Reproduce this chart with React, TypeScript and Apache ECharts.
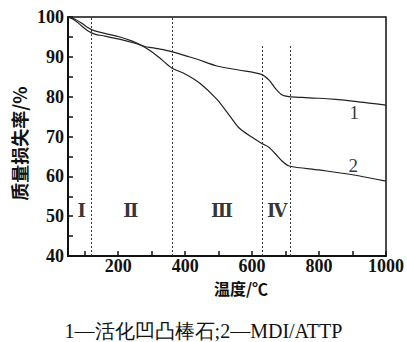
import React, { useEffect, useRef } from "react";
import * as echarts from "echarts";

const temps1 = [50, 70, 90, 110, 130, 160, 200, 250, 280, 300, 340, 360, 400, 436, 495, 560, 628, 650, 670, 690, 710, 750, 800, 850, 900, 950, 1000];
const loss1 = [100, 99.2, 97.8, 96.5, 95.7, 95.2, 94.5, 93.4, 92.6, 92.3, 91.7, 91.3, 90.3, 89.4, 87.7, 86.7, 85.6, 84.2, 82.0, 80.4, 80.0, 79.8, 79.6, 79.3, 78.9, 78.4, 77.9];
const temps2 = [50, 70, 90, 110, 130, 160, 200, 240, 275, 300, 330, 360, 400, 445, 495, 533, 563, 600, 628, 650, 670, 690, 711, 800, 900, 1000];
const loss2 = [100, 99.5, 98.5, 97.3, 96.5, 95.9, 95.1, 94.0, 92.6, 91.3, 89.3, 87.2, 85.7, 83.3, 79.3, 75.2, 72.0, 69.8, 68.3, 67.3, 65.6, 63.8, 62.6, 61.6, 60.4, 58.8];

const stageBounds = [120, 360, 630, 713];
const stageTops = [100, 100, 92.8, 92.8];
const stageNames = ["Ⅰ", "Ⅱ", "Ⅲ", "Ⅳ"];
const stageX = [91, 238, 510, 675];
const stageY = 51.3;

const curveNames = ["1", "2"];
const curveLabelX = [905, 902];
const curveLabelY = [76.0, 62.6];

const xTicks = [100, 200, 300, 400, 500, 600, 700, 800, 900, 1000];
const xLabels = [200, 400, 600, 800, 1000];

const caption = "1—活化凹凸棒石;2—MDI/ATTP";
const xName = "温度/℃";
const yName = "质量损失率/%";

const serif = "Liberation Serif";
const cjk = "Noto Sans CJK SC";

export default function App() {
  const ref = useRef<HTMLDivElement>(null);
  useEffect(() => {
    if (!ref.current) return;
    const chart = echarts.init(ref.current, null, { renderer: "svg" });
    const lineStyle = { color: "#222", width: 1.2 };
    chart.setOption({
      animation: false,
      backgroundColor: "#fff",
      color: ["#222", "#222", "#000", "#000"],
      title: {
        text: caption,
        left: "center",
        bottom: -4,
        textStyle: { fontFamily: serif, fontSize: 20, fontWeight: "normal", color: "#111" },
      },
      grid: {
        left: 68,
        right: 16,
        top: 17,
        bottom: 86,
        show: true,
        borderColor: "#111",
        borderWidth: 1.5,
      },
      xAxis: {
        type: "value",
        min: 50,
        max: 1000,
        name: xName,
        nameLocation: "middle",
        nameGap: 24,
        nameMoveOverlap: false,
        nameTextStyle: { fontFamily: cjk, fontSize: 16, lineHeight: 16, fontWeight: "bold", color: "#111", padding: [0, 0, 0, 28] },
        axisLine: { lineStyle: { color: "#111", width: 2 } },
        axisTick: { inside: true, length: 5, customValues: xTicks, lineStyle: { color: "#111", width: 1.5 } },
        axisLabel: { customValues: xLabels, formatter: (v: number) => String(v), fontFamily: serif, fontSize: 18, lineHeight: 16, fontWeight: "bold", color: "#111", margin: 2 },
        splitLine: { show: false },
      },
      yAxis: {
        type: "value",
        min: 40,
        max: 100,
        interval: 10,
        name: yName,
        nameLocation: "middle",
        nameRotate: 90,
        nameGap: 40,
        nameMoveOverlap: false,
        nameTextStyle: { fontFamily: cjk, fontSize: 18, fontWeight: "bold", color: "#111", padding: [0, 0, 0, -14] },
        axisLine: { lineStyle: { color: "#111", width: 2 } },
        axisTick: { inside: true, length: 5, lineStyle: { color: "#111", width: 1.5 } },
        minorTick: { show: true, splitNumber: 2, length: 5, lineStyle: { color: "#111", width: 1.5 } },
        axisLabel: { formatter: (v: number) => String(v), fontFamily: serif, fontSize: 18, fontWeight: "bold", color: "#111", margin: 4 },
        splitLine: { show: false },
      },
      series: [
        {
          type: "line",
          data: temps1.map((t, i) => [t, loss1[i]]),
          smooth: 0.3,
          showSymbol: false,
          lineStyle,
          markLine: {
            silent: true,
            symbol: "none",
            label: { show: false },
            lineStyle: { color: "#333", width: 1, type: [2, 2] },
            data: stageBounds.map((b, i) => [{ coord: [b, 40] }, { coord: [b, stageTops[i]] }]),
          },
        },
        {
          type: "line",
          data: temps2.map((t, i) => [t, loss2[i]]),
          smooth: 0.3,
          showSymbol: false,
          lineStyle,
        },
        {
          type: "scatter",
          symbolSize: 0,
          itemStyle: { color: "#000" },
          data: stageNames.map((n, i) => ({ value: [stageX[i], stageY], name: n })),
          label: {
            show: true,
            position: "inside",
            formatter: (p: any) => p.name,
            fontFamily: "DejaVu Serif",
            fontSize: 18,
            fontWeight: "bold",
            color: "#000",
          },
        },
        {
          type: "scatter",
          symbolSize: 0,
          itemStyle: { color: "#000" },
          data: curveNames.map((n, i) => ({ value: [curveLabelX[i], curveLabelY[i]], name: n })),
          label: {
            show: true,
            position: "inside",
            formatter: (p: any) => p.name,
            fontFamily: serif,
            fontSize: 19,
            color: "#000",
          },
        },
      ],
    });
    return () => chart.dispose();
  }, []);
  return <div ref={ref} style={{ width: 407, height: 342, position: "absolute", left: 0, top: 0 }} />;
}
